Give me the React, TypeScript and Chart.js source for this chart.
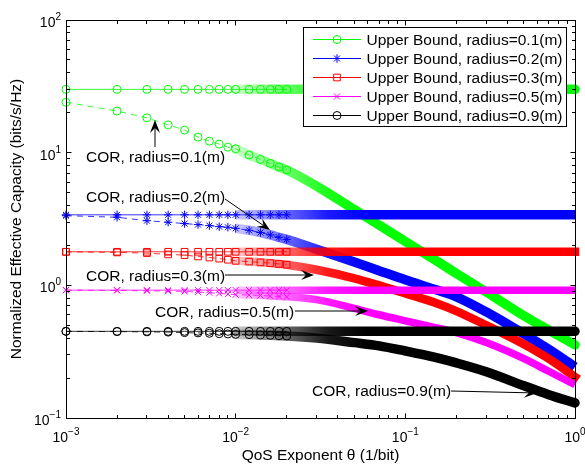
import React, { useEffect, useRef } from 'react';
import { Chart, registerables } from 'chart.js';

Chart.register(...registerables);

// ---------------- data ----------------
const THETA = [
  0.001, 0.002, 0.003, 0.004, 0.005, 0.006, 0.007, 0.008, 0.009, 0.01,
  0.012, 0.014, 0.016, 0.018, 0.02, 0.03, 0.05, 0.07, 0.1, 0.15, 0.2, 0.3, 0.5, 0.7, 1,
];
const MARKERS_UNTIL = 0.02; // individual markers are visible up to here
const BAND_FROM = 0.01; // from here the markers merge into a solid band

const RADII = ['0.1', '0.2', '0.3', '0.5', '0.9'];
const UPPER_BOUND = [30, 3.4, 1.79, 0.92, 0.45];

const COR_R01 = [24, 20.6, 18.3, 16.2, 14.8, 13.1, 12.2, 11.6, 11.0, 10.7, 9.6, 8.9, 8.3, 7.8, 7.4, 5.6, 3.72, 2.85, 2.14, 1.55, 1.23, 0.89, 0.59, 0.46, 0.356];
const COR_R02 = [3.35, 3.26, 3.07, 2.99, 2.92, 2.87, 2.82, 2.77, 2.74, 2.69, 2.6, 2.5, 2.4, 2.3, 2.22, 1.87, 1.5, 1.29, 1.1, 0.93, 0.82, 0.63, 0.43, 0.33, 0.243];
const COR_R03 = [1.79, 1.77, 1.75, 1.71, 1.69, 1.65, 1.62, 1.59, 1.56, 1.53, 1.51, 1.49, 1.47, 1.45, 1.43, 1.31, 1.13, 1.0, 0.87, 0.74, 0.64, 0.5, 0.36, 0.28, 0.204];
const COR_R05 = [0.92, 0.915, 0.91, 0.905, 0.9, 0.89, 0.88, 0.87, 0.86, 0.85, 0.845, 0.84, 0.83, 0.825, 0.82, 0.78, 0.67, 0.6, 0.54, 0.48, 0.44, 0.37, 0.28, 0.225, 0.178];
const COR_R09 = [0.45, 0.448, 0.446, 0.444, 0.44, 0.438, 0.435, 0.432, 0.43, 0.427, 0.425, 0.422, 0.42, 0.417, 0.415, 0.4, 0.37, 0.35, 0.32, 0.286, 0.26, 0.223, 0.175, 0.15, 0.13];
const COR_VALUES = [COR_R01, COR_R02, COR_R03, COR_R05, COR_R09];

const X_TICKS = [0.001, 0.01, 0.1, 1];
const X_TICK_EXP = ['\u22123', '\u22122', '\u22121', '0'];
const Y_TICKS = [0.1, 1, 10, 100];
const Y_TICK_EXP = ['\u22121', '0', '1', '2'];

const X_TITLE = 'QoS Exponent \u03b8 (1/bit)';
const Y_TITLE = 'Normalized Effective Capacity (bits/s/Hz)';

const ANNOTATIONS = [
  { text: 'COR, radius=0.1(m)', tx: 86, ty: 162, from: [155, 147], to: [155, 120] },
  { text: 'COR, radius=0.2(m)', tx: 86, ty: 201.5, from: [225, 199], to: [270, 230] },
  { text: 'COR, radius=0.3(m)', tx: 86, ty: 280.5, from: [225, 275], to: [314, 275] },
  { text: 'COR, radius=0.5(m)', tx: 155, ty: 317, from: [295, 311], to: [368, 311] },
  { text: 'COR, radius=0.9(m)', tx: 312, ty: 395.5, from: [451, 391], to: [537, 393] },
];

// ---------------- styles ----------------
const STYLES = [
  { color: '#00ff00', marker: 'circle', r: 4, band: 9.5, cap: 'round' },
  { color: '#0000ff', marker: 'star', r: 4.2, band: 9.5, cap: 'butt' },
  { color: '#ff0000', marker: 'rect', r: 4.7, band: 8.5, cap: 'square' },
  { color: '#ff00ff', marker: 'crossRot', r: 4.3, band: 7.5, cap: 'butt' },
  { color: '#000000', marker: 'circle', r: 4, band: 9.5, cap: 'round' },
];

const FONT = '"Liberation Sans", Arial, Helvetica, sans-serif';

function rgba(hex: string, a: number) {
  const n = parseInt(hex.slice(1), 16);
  return `rgba(${(n >> 16) & 255},${(n >> 8) & 255},${n & 255},${a})`;
}

function drawMarker(ctx: CanvasRenderingContext2D, style: string, x: number, y: number, r: number) {
  ctx.beginPath();
  if (style === 'circle') {
    ctx.arc(x, y, r, 0, Math.PI * 2);
  } else if (style === 'rect') {
    const s = Math.SQRT1_2 * r;
    ctx.rect(x - s, y - s, 2 * s, 2 * s);
  } else if (style === 'crossRot') {
    const o = Math.SQRT1_2 * r;
    ctx.moveTo(x - o, y - o); ctx.lineTo(x + o, y + o);
    ctx.moveTo(x - o, y + o); ctx.lineTo(x + o, y - o);
  } else {
    const o = Math.SQRT1_2 * r;
    ctx.moveTo(x, y - r); ctx.lineTo(x, y + r);
    ctx.moveTo(x - r, y); ctx.lineTo(x + r, y);
    ctx.moveTo(x - o, y - o); ctx.lineTo(x + o, y + o);
    ctx.moveTo(x - o, y + o); ctx.lineTo(x + o, y - o);
  }
  ctx.stroke();
}

// fade the band in where the overlapping markers still leave gaps
const FADE = [
  { at: 0.01, alpha: 0.2 },
  { at: 0.02, alpha: 0.6 },
  { at: 0.035, alpha: 0.9 },
  { at: 0.06, alpha: 1 },
];

function bandColor(color: string) {
  return (c: any) => {
    const chart = c.chart;
    const xs = chart && chart.scales ? chart.scales.x : null;
    if (!xs || !chart.chartArea) return color;
    const x0 = xs.getPixelForValue(FADE[0].at);
    const x1 = xs.getPixelForValue(FADE[FADE.length - 1].at);
    if (!isFinite(x0) || !isFinite(x1) || x1 <= x0) return color;
    const g = chart.ctx.createLinearGradient(x0, 0, x1, 0);
    FADE.forEach((f) => {
      const p = (xs.getPixelForValue(f.at) - x0) / (x1 - x0);
      g.addColorStop(Math.min(1, Math.max(0, p)), rgba(color, f.alpha));
    });
    return g;
  };
}

function buildDatasets() {
  const sets: any[] = [];
  let drawIdx = 0;
  const push = (d: any) => { d.order = 1000 - drawIdx; drawIdx++; sets.push(d); };
  RADII.forEach((rad, i) => {
    const st = STYLES[i];
    const ub = UPPER_BOUND[i];
    const cor = COR_VALUES[i];
    const ubPts = THETA.map((t) => ({ x: t, y: ub }));
    const corPts = THETA.map((t, j) => ({ x: t, y: cor[j] }));
    const common = { clip: false, pointHoverRadius: 0 };
    push({
      ...common, label: `UB band ${rad}`, data: ubPts.filter((p) => p.x >= BAND_FROM),
      borderColor: bandColor(st.color), borderWidth: st.band, borderCapStyle: st.cap,
      pointRadius: 0, fill: false,
    });
    push({
      ...common, label: `Upper Bound, radius=${rad}(m)`, data: ubPts.filter((p) => p.x <= MARKERS_UNTIL),
      borderColor: st.color, borderWidth: 0.8, pointStyle: st.marker, pointRadius: st.r,
      pointBorderColor: st.color, pointBackgroundColor: 'rgba(0,0,0,0)', pointBorderWidth: 1, fill: false,
    });
    push({
      ...common, label: `COR band ${rad}`, data: corPts.filter((p) => p.x >= BAND_FROM),
      borderColor: bandColor(st.color), borderWidth: st.band, borderCapStyle: st.cap,
      borderJoinStyle: 'round', cubicInterpolationMode: 'monotone', pointRadius: 0, fill: false,
    });
    push({
      ...common, label: `COR, radius=${rad}(m)`, data: corPts.filter((p) => p.x <= MARKERS_UNTIL),
      borderColor: st.color, borderWidth: 0.8, borderDash: [6, 5], pointStyle: st.marker, pointRadius: st.r,
      pointBorderColor: st.color, pointBackgroundColor: 'rgba(0,0,0,0)', pointBorderWidth: 1, fill: false,
    });
  });
  return sets;
}

function drawPow(ctx: CanvasRenderingContext2D, exp: string, x: number, baseY: number, expY: number, align: 'center' | 'right') {
  ctx.font = `14px ${FONT}`;
  const wb = ctx.measureText('10').width;
  ctx.font = `10px ${FONT}`;
  const we = ctx.measureText(exp).width;
  const w = wb + we;
  const start = align === 'center' ? x - w / 2 : x - w;
  ctx.textAlign = 'left';
  ctx.textBaseline = 'alphabetic';
  ctx.font = `14px ${FONT}`;
  ctx.fillText('10', start, baseY);
  ctx.font = `10px ${FONT}`;
  ctx.fillText(exp, start + wb, expY);
}

function drawArrow(ctx: CanvasRenderingContext2D, from: number[], to: number[]) {
  const [x0, y0] = from;
  const [x1, y1] = to;
  const dx = x1 - x0, dy = y1 - y0;
  const len = Math.hypot(dx, dy);
  const ux = dx / len, uy = dy / len;
  const nx = -uy, ny = ux;
  const L = 13, W = 5, N = 8;
  ctx.beginPath();
  ctx.moveTo(x0, y0);
  ctx.lineTo(x1 - ux * N, y1 - uy * N);
  ctx.stroke();
  ctx.beginPath();
  ctx.moveTo(x1, y1);
  ctx.lineTo(x1 - ux * L + nx * W, y1 - uy * L + ny * W);
  ctx.lineTo(x1 - ux * N, y1 - uy * N);
  ctx.lineTo(x1 - ux * L - nx * W, y1 - uy * L - ny * W);
  ctx.closePath();
  ctx.fill();
}

const decorPlugin = {
  id: 'decor',
  afterDatasetsDraw(chart: any) {
    const { ctx, chartArea: a, scales } = chart;
    const xs = scales.x, ys = scales.y;
    ctx.save();
    ctx.strokeStyle = '#000';
    ctx.fillStyle = '#000';
    ctx.lineWidth = 1;
    ctx.setLineDash([]);
    const L = Math.floor(a.left) + 0.5;
    const R = Math.floor(a.right) + 0.5;
    const T = Math.floor(a.top) + 0.5;
    const B = Math.floor(a.bottom) + 0.5;
    ctx.strokeRect(L, T, R - L, B - T);

    ctx.beginPath();
    for (let k = -3; k <= 0; k++) {
      for (let m = 1; m <= 9; m++) {
        const v = m * Math.pow(10, k);
        if (v > 1.0000001) break;
        const px = Math.floor(xs.getPixelForValue(v)) + 0.5;
        const len = m === 1 ? 5 : 3.5;
        ctx.moveTo(px, B); ctx.lineTo(px, B - len);
        ctx.moveTo(px, T); ctx.lineTo(px, T + len);
      }
    }
    for (let k = -1; k <= 2; k++) {
      for (let m = 1; m <= 9; m++) {
        const v = m * Math.pow(10, k);
        if (v > 100.00001) break;
        const py = Math.floor(ys.getPixelForValue(v)) + 0.5;
        const len = m === 1 ? 5 : 3.5;
        ctx.moveTo(L, py); ctx.lineTo(L + len, py);
        ctx.moveTo(R, py); ctx.lineTo(R - len, py);
      }
    }
    ctx.stroke();

    X_TICKS.forEach((v, i) => {
      const px = xs.getPixelForValue(v);
      drawPow(ctx, X_TICK_EXP[i], px, 442, 435, 'center');
    });
    Y_TICKS.forEach((v, i) => {
      const py = ys.getPixelForValue(v);
      drawPow(ctx, Y_TICK_EXP[i], a.left - 5, py + 7, py, 'right');
    });

    ctx.font = `15.5px ${FONT}`;
    ctx.textAlign = 'center';
    ctx.textBaseline = 'alphabetic';
    ctx.fillText(X_TITLE, (a.left + a.right) / 2, 460);
    ctx.save();
    ctx.translate(21, (a.top + a.bottom) / 2);
    ctx.rotate(-Math.PI / 2);
    ctx.fillText(Y_TITLE, 0, 0);
    ctx.restore();

    ctx.textAlign = 'left';
    ANNOTATIONS.forEach((an) => {
      ctx.font = `15.5px ${FONT}`;
      ctx.fillText(an.text, an.tx, an.ty);
      ctx.lineWidth = 1;
      drawArrow(ctx, an.from, an.to);
    });

    const lx = 303.5, ly = 27.5, lw = 263, lh = 99;
    ctx.fillStyle = '#fff';
    ctx.fillRect(lx, ly, lw, lh);
    ctx.strokeStyle = '#000';
    ctx.lineWidth = 1;
    ctx.strokeRect(lx, ly, lw, lh);
    RADII.forEach((rad, i) => {
      const st = STYLES[i];
      const y = 39.5 + i * 19;
      ctx.strokeStyle = st.color;
      ctx.lineWidth = 1;
      ctx.beginPath();
      ctx.moveTo(313, y); ctx.lineTo(361, y);
      ctx.stroke();
      drawMarker(ctx, st.marker, 337, y, st.r);
      ctx.fillStyle = '#000';
      ctx.font = `15.5px ${FONT}`;
      ctx.textAlign = 'left';
      ctx.fillText(`Upper Bound, radius=${rad}(m)`, 366.5, y + 5.5);
    });
    ctx.restore();
  },
};

export default function App() {
  const ref = useRef<HTMLCanvasElement | null>(null);
  useEffect(() => {
    if (!ref.current) return;
    const chart = new Chart(ref.current, {
      type: 'line',
      data: { datasets: buildDatasets() },
      options: {
        animation: false,
        responsive: false,
        devicePixelRatio: 1,
        layout: { padding: { left: 66, right: 10, top: 20, bottom: 47 } },
        scales: {
          x: { type: 'logarithmic', min: 0.001, max: 1, display: false },
          y: { type: 'logarithmic', min: 0.1, max: 100, display: false },
        },
        plugins: { legend: { display: false }, tooltip: { enabled: false } },
        events: [],
      } as any,
      plugins: [decorPlugin as any],
    });
    return () => chart.destroy();
  }, []);
  return (
    <div style={{ position: 'absolute', left: 0, top: 0, width: 585, height: 465, background: '#fff' }}>
      <canvas ref={ref} width={585} height={465} style={{ display: 'block' }} />
    </div>
  );
}
